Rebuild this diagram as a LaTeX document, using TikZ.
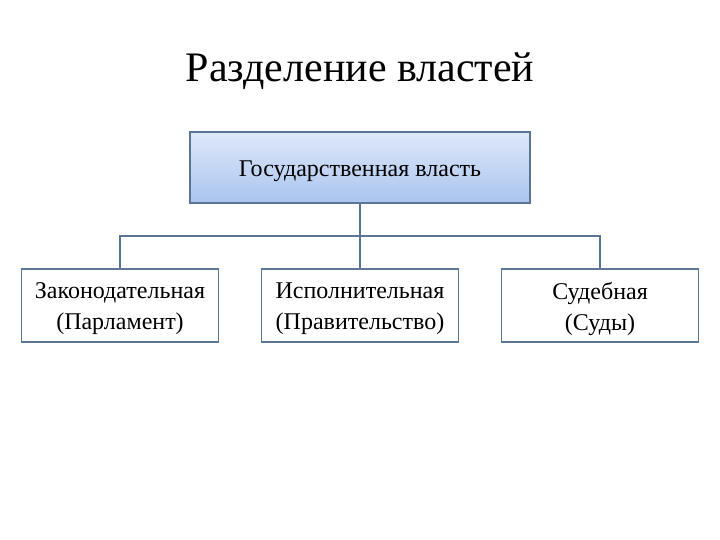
\documentclass[tikz,border=0pt]{standalone}
\usepackage{fontspec}
\setmainfont{Liberation Serif}
\definecolor{edge}{RGB}{90,118,146}
\definecolor{topc}{RGB}{222,232,250}
\definecolor{botc}{RGB}{170,196,238}
\begin{document}
\begin{tikzpicture}[x=1pt,y=-1pt,
  box/.style={draw=edge,line width=1.6pt,minimum width=197pt,minimum height=73pt,align=center,inner sep=0pt,font=\fontsize{24}{31}\selectfont},
  lbl/.style={align=center,inner sep=0pt,font=\fontsize{24}{31}\selectfont},
  link/.style={draw=edge,line width=1.6pt}]
\useasboundingbox (0,0) rectangle (720,540);
\node[font=\fontsize{42}{48}\selectfont] (title) at (360,71) {Разделение властей};
\node[box,minimum width=340pt,minimum height=71pt,top color=topc,bottom color=botc] (gov) at (360,167.5) {};
\node[box] (leg) at (120,305.5) {};
\node[box] (exe) at (360,305.5) {};
\node[box] (jud) at (600,305.5) {};
\node[lbl] (govt) at ([yshift=-4pt]gov.center) {Государственная власть};
\node[lbl] (legt) at ([yshift=-3pt]leg.center) {Законодательная\\(Парламент)};
\node[lbl] (exet) at ([yshift=-3pt]exe.center) {Исполнительная\\(Правительство)};
\node[lbl] (judt) at ([yshift=-3pt]jud.center) {Судебная\\(Суды)};
\coordinate (mid) at (360,236);
\draw[link] (gov.south) -- (mid);
\draw[link] (leg.north) |- (mid) -| (jud.north);
\draw[link] (mid) -- (exe.north);
\end{tikzpicture}
\end{document}
